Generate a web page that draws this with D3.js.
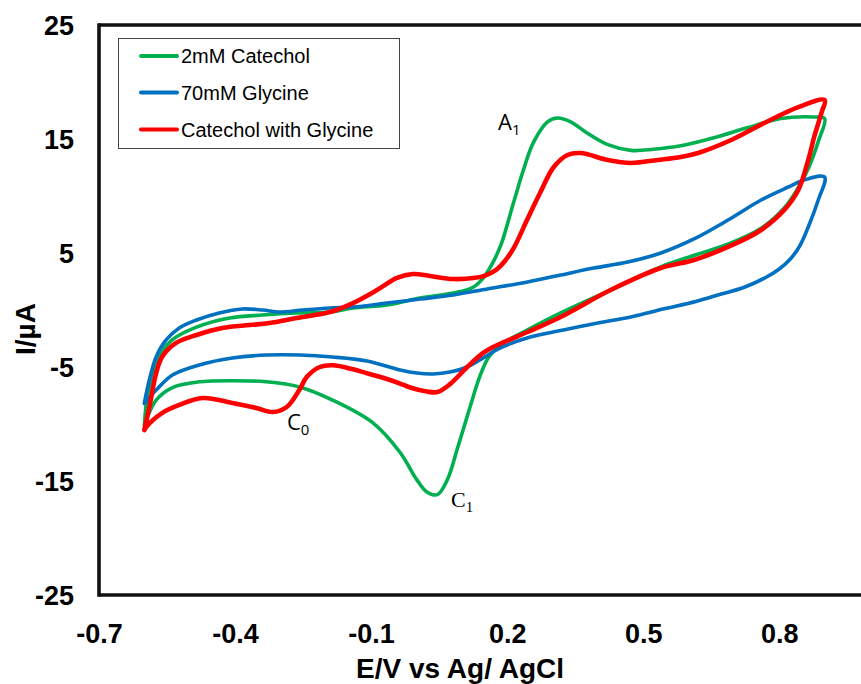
<!DOCTYPE html>
<html>
<head>
<meta charset="utf-8">
<script src="https://cdn.jsdelivr.net/npm/d3@7/dist/d3.min.js"></script>
<style>
  html, body { margin: 0; padding: 0; background: #fff; }
  svg { display: block; }
</style>
</head>
<body>
<svg id="chart" width="861" height="684"></svg>
<script>
// ---------- DATA ----------
const seriesNames = ["2mM Catechol", "70mM Glycine", "Catechol with Glycine"];
const seriesColors = ["#00B050", "#0070C0", "#FF0000"];

const xTicks = [-0.7, -0.4, -0.1, 0.2, 0.5, 0.8];
const xTickLabels = ["-0.7", "-0.4", "-0.1", "0.2", "0.5", "0.8"];
const yTicks = [25, 15, 5, -5, -15, -25];
const yTickLabels = ["25", "15", "5", "-5", "-15", "-25"];

// 2mM Catechol (green)
const catecholE = [-0.600, -0.592, -0.567, -0.538, -0.485, -0.412, -0.339, -0.264, -0.191, -0.140, -0.065, 0.008, 0.081, 0.125, 0.147, 0.169, 0.187, 0.214, 0.236, 0.258, 0.289, 0.311, 0.340, 0.377, 0.422, 0.473, 0.523, 0.583, 0.656, 0.731, 0.804, 0.877, 0.900,
  0.887, 0.865, 0.843, 0.812, 0.761, 0.688, 0.613, 0.540, 0.428, 0.318, 0.245, 0.192, 0.160, 0.140, 0.119, 0.090, 0.068, 0.046, 0.023, 0.001, -0.036, -0.096, -0.185, -0.258, -0.331, -0.406, -0.479, -0.538, -0.574, -0.596, -0.600];
const catecholI = [-10.1, -7.3, -4.1, -2.6, -1.5, -0.7, -0.44, -0.26, -0.18, 0.18, 0.44, 1.05, 1.49, 2.0, 2.8, 4.2, 5.8, 9.4, 12.3, 14.7, 16.5, 16.84, 16.5, 15.5, 14.5, 14.0, 14.1, 14.4, 15.1, 16.0, 16.8, 16.93, 16.8,
  14.9, 12.5, 10.8, 9.0, 7.2, 5.8, 4.8, 3.8, 1.75, -0.26, -1.75, -2.9, -4.1, -5.8, -8.4, -12.2, -14.9, -16.2, -15.96, -14.9, -12.5, -9.9, -7.9, -6.75, -6.3, -6.2, -6.3, -6.8, -7.9, -9.65, -10.1];

// 70mM Glycine (blue)
const glycineE = [-0.600, -0.589, -0.574, -0.552, -0.523, -0.485, -0.435, -0.384, -0.339, -0.302, -0.251, -0.191, -0.140, -0.065, 0.008, 0.081, 0.156, 0.245, 0.318, 0.391, 0.466, 0.539, 0.612, 0.687, 0.760, 0.820, 0.855, 0.900,
  0.886, 0.864, 0.845, 0.825, 0.800, 0.770, 0.723, 0.672, 0.616, 0.546, 0.473, 0.400, 0.324, 0.251, 0.185, 0.147, 0.112, 0.074, 0.037, 0.001, -0.036, -0.109, -0.185, -0.258, -0.331, -0.406, -0.479, -0.538, -0.574, -0.596, -0.600];
const glycineI = [-8.16, -6.14, -4.12, -2.63, -1.58, -0.88, -0.26, 0.09, 0.0, -0.18, 0.0, 0.18, 0.26, 0.61, 0.96, 1.32, 1.84, 2.46, 3.07, 3.68, 4.21, 5.0, 6.23, 7.89, 9.65, 10.79, 11.4, 11.67,
  9.65, 7.28, 5.6, 4.5, 3.6, 2.85, 2.0, 1.4, 0.75, 0.1, -0.61, -1.14, -1.75, -2.37, -3.33, -4.21, -5.0, -5.44, -5.61, -5.53, -5.26, -4.47, -4.12, -3.95, -3.95, -4.21, -4.82, -5.7, -7.02, -8.0, -8.2];

// Catechol with Glycine (red)
const mixE = [-0.600, -0.589, -0.574, -0.561, -0.530, -0.485, -0.428, -0.368, -0.324, -0.264, -0.191, -0.140, -0.087, -0.043, -0.008, 0.030, 0.081, 0.125, 0.150, 0.175, 0.195, 0.214, 0.245, 0.273, 0.302, 0.333, 0.362, 0.422, 0.473, 0.532, 0.583, 0.621, 0.694, 0.767, 0.842, 0.900,
  0.893, 0.877, 0.864, 0.842, 0.811, 0.760, 0.687, 0.612, 0.539, 0.428, 0.318, 0.245, 0.169, 0.147, 0.112, 0.074, 0.046, 0.023, -0.014, -0.036, -0.065, -0.109, -0.140, -0.185, -0.213, -0.242, -0.258, -0.286, -0.317, -0.353, -0.406, -0.472, -0.523, -0.561, -0.596, -0.600];
const mixI = [-10.53, -8.51, -5.53, -4.12, -2.89, -2.19, -1.58, -1.32, -1.14, -0.70, -0.18, 0.61, 1.75, 2.81, 3.16, 2.98, 2.72, 2.8, 3.0, 3.5, 4.3, 5.4, 8.0, 10.3, 12.5, 13.6, 13.77, 13.16, 12.9, 13.16, 13.42, 13.77, 14.91, 16.4, 17.8, 18.42,
  17.28, 15.18, 13.16, 10.53, 8.77, 7.02, 5.53, 4.39, 3.68, 1.75, -0.61, -1.93, -3.25, -3.77, -5.0, -6.5, -7.2, -7.15, -6.8, -6.45, -6.05, -5.55, -5.2, -4.85, -5.0, -5.88, -7.0, -8.51, -8.95, -8.6, -8.16, -7.72, -8.33, -9.04, -10.26, -10.53];

const seriesE = [catecholE, glycineE, mixE];
const seriesI = [catecholI, glycineI, mixI];
const seriesWidths = [3.6, 3.6, 4.6];

// ---------- LAYOUT ----------
const svg = d3.select("#chart");
const W = 861, H = 684;
const x = d3.scaleLinear().domain([-0.7, 1.1]).range([99, 99 + 1.8 * 453.5]);
const y = d3.scaleLinear().domain([-25, 25]).range([595, 25]);

// curves
const line = d3.line()
  .x(d => x(d[0])).y(d => y(d[1]))
  .curve(d3.curveCatmullRom.alpha(0.5));

seriesE.forEach((E, i) => {
  const pts = E.map((e, j) => [e, seriesI[i][j]]);
  svg.append("path")
    .datum(pts)
    .attr("d", line)
    .attr("fill", "none")
    .attr("stroke", seriesColors[i])
    .attr("stroke-width", seriesWidths[i])
    .attr("stroke-linejoin", "round")
    .attr("stroke-linecap", "round");
});

// frame
const frame = svg.append("g").attr("stroke", "#111").attr("stroke-width", 3.6).attr("fill", "none");
frame.append("line").attr("x1", x(-0.7)).attr("x2", W).attr("y1", y(25)).attr("y2", y(25));
frame.append("line").attr("x1", x(-0.7)).attr("x2", W).attr("y1", y(-25)).attr("y2", y(-25));
frame.append("line").attr("x1", x(-0.7)).attr("x2", x(-0.7)).attr("y1", y(25) - 1.8).attr("y2", y(-25) + 1.8);

// axes
const fontTick = "'Liberation Sans', Arial, sans-serif";
const xAxis = svg.append("g")
  .attr("transform", `translate(0,${y(-25)})`)
  .call(d3.axisBottom(x).tickValues(xTicks).tickSize(0).tickPadding(29)
    .tickFormat((d, i) => xTickLabels[i]));
xAxis.select(".domain").remove();
xAxis.selectAll("text")
  .attr("font-family", fontTick).attr("font-weight", "bold").attr("font-size", 27).attr("fill", "#000");

const yAxis = svg.append("g")
  .attr("transform", `translate(${x(-0.7)},0)`)
  .call(d3.axisLeft(y).tickValues(yTicks).tickSize(0).tickPadding(25)
    .tickFormat((d, i) => yTickLabels[i]));
yAxis.select(".domain").remove();
yAxis.selectAll("text")
  .attr("font-family", fontTick).attr("font-weight", "bold").attr("font-size", 27).attr("fill", "#000")
  .attr("dy", "0.36em");

// axis titles
svg.append("text")
  .attr("x", 460).attr("y", 678)
  .attr("text-anchor", "middle")
  .attr("font-family", fontTick).attr("font-weight", "bold").attr("font-size", 28)
  .text("E/V vs Ag/ AgCl");

svg.append("text")
  .attr("transform", "translate(35,329) rotate(-90)")
  .attr("text-anchor", "middle")
  .attr("font-family", fontTick).attr("font-weight", "bold").attr("font-size", 28)
  .text("I/µA");

// legend
const legend = svg.append("g");
legend.append("rect")
  .attr("x", 118.5).attr("y", 38.5).attr("width", 281).attr("height", 110)
  .attr("fill", "#fff").attr("stroke", "#444").attr("stroke-width", 1);
const legendRowsY = [56, 92.5, 129.5];
seriesNames.forEach((name, i) => {
  legend.append("line")
    .attr("x1", 141).attr("x2", 177)
    .attr("y1", legendRowsY[i]).attr("y2", legendRowsY[i])
    .attr("stroke", seriesColors[i]).attr("stroke-width", 4)
    .attr("stroke-linecap", "round");
  legend.append("text")
    .attr("x", 181).attr("y", legendRowsY[i] + 7)
    .attr("font-family", fontTick).attr("font-size", 20).attr("fill", "#000")
    .text(name);
});

// peak annotations
function label(xp, yp, main, sub, family, size) {
  const t = svg.append("text")
    .attr("x", xp).attr("y", yp)
    .attr("font-family", family).attr("font-size", size).attr("fill", "#000");
  t.append("tspan").text(main);
  t.append("tspan").attr("dy", 5).attr("font-size", size * 0.68).text(sub);
}
label(498, 130, "A", "1", "'Open Sans', 'DejaVu Sans', sans-serif", 22);
label(287, 430, "C", "0", "'Open Sans', 'DejaVu Sans', sans-serif", 22);
label(451, 507, "C", "1", "'Liberation Serif', 'Times New Roman', serif", 22);
</script>
</body>
</html>
